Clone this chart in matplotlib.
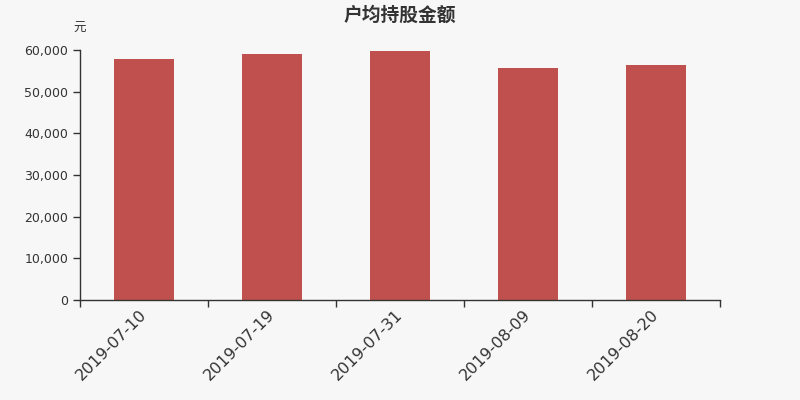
import numpy as np
import matplotlib
matplotlib.use('Agg')
import matplotlib.pyplot as plt
from matplotlib.ticker import FuncFormatter

plt.rcParams['font.family'] = ['DejaVu Sans', 'Noto Sans CJK SC']

# data
dates = ['2019-07-10', '2019-07-19', '2019-07-31', '2019-08-09', '2019-08-20']
amount = [57840, 59120, 59760, 55680, 56400]
yticks = [0, 10000, 20000, 30000, 40000, 50000, 60000]

bg = '#f7f7f7'
bar_color = '#c0504d'
axis_color = '#333333'

fig = plt.figure(figsize=(8, 4), dpi=100, facecolor=bg)
ax = fig.add_axes([0.1, 0.25, 0.8, 0.625])
ax.set_facecolor(bg)

x = np.arange(len(dates))
ax.bar(x, amount, width=0.47, color=bar_color, edgecolor='none', zorder=2)

ax.set_xlim(-0.5, len(dates) - 0.5)
ax.set_ylim(0, 60000)
ax.set_yticks(yticks)
ax.yaxis.set_major_formatter(FuncFormatter(lambda v, p: '{:,.0f}'.format(v)))

# labels at category centre, tick marks at category boundaries
ax.set_xticks(x)
ax.set_xticklabels(dates, rotation=45, ha='right', va='center',
                   rotation_mode='anchor', fontsize=11.5, color=axis_color)
ax.set_xticks(np.arange(len(dates) + 1) - 0.5, minor=True)
ax.tick_params(axis='x', which='major', length=0, pad=9)
ax.tick_params(axis='x', which='minor', length=5, color=axis_color, width=1)
ax.tick_params(axis='y', length=5, color=axis_color, labelsize=9,
               labelcolor=axis_color, width=1)

for s in ['top', 'right']:
    ax.spines[s].set_visible(False)
for s in ['left', 'bottom']:
    ax.spines[s].set_color(axis_color)
    ax.spines[s].set_linewidth(1)

fig.text(0.5, 0.963, '户均持股金额', ha='center', va='center', fontsize=13.5,
         fontweight='bold', color=axis_color, family=['Noto Sans CJK SC'])
fig.text(0.1, 0.928, '元', ha='center', va='center', fontsize=9,
         color=axis_color, family=['Noto Sans CJK SC'])

fig.savefig('out.png', dpi=100, facecolor=bg)
